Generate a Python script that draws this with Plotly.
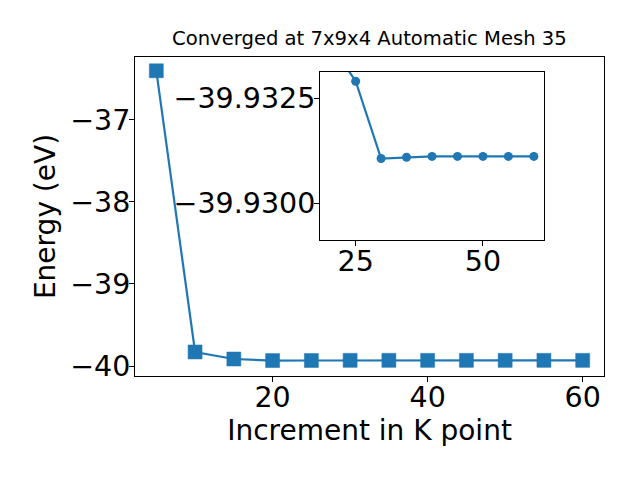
import plotly.graph_objects as go

kpoints = [5, 10, 15, 20, 25, 30, 35, 40, 45, 50, 55, 60]
energy = [-36.40, -39.829, -39.915, -39.9338, -39.9329, -39.93106, -39.93109,
          -39.93111, -39.93111, -39.93111, -39.93111, -39.93111]
inset_x = kpoints[3:]
inset_y = energy[3:]

main_yticks = [-37, -38, -39, -40]
main_xticks = [20, 40, 60]
inset_yticks = [-39.9325, -39.9300]
inset_yticktext = ["\u221239.9325", "\u221239.9300"]
inset_xticks = [25, 50]

C = "#1f77b4"
FONT = "DejaVu Sans"

fig = go.Figure()
fig.add_trace(go.Scatter(
    x=kpoints, y=energy, mode="lines+markers",
    line=dict(color=C, width=2.2),
    marker=dict(symbol="square", size=14, color=C, line=dict(color="rgba(31,119,180,0.5)", width=1)),
    xaxis="x", yaxis="y", showlegend=False, cliponaxis=False))
fig.add_trace(go.Scatter(
    x=inset_x, y=inset_y, mode="lines+markers",
    line=dict(color=C, width=2.2),
    marker=dict(symbol="circle", size=9, color=C),
    xaxis="x2", yaxis="y2", showlegend=False))

axbase = dict(showline=True, linecolor="black", linewidth=1, mirror=True,
              ticks="outside", ticklen=5, tickcolor="black", showgrid=False,
              zeroline=False, automargin=False,
              tickfont=dict(family=FONT, size=28.5, color="black"))
xax = dict(axbase, ticklabelstandoff=-9)
yax = dict(axbase, ticklabelstandoff=-7)

fig.update_layout(
    width=640, height=480,
    margin=dict(l=127, r=44, t=49, b=112),
    paper_bgcolor="white", plot_bgcolor="white",
    font=dict(family=FONT, color="black"),
    xaxis=dict(domain=[0, 1], range=[2.25, 62.75], tickvals=main_xticks,
               title=dict(text="Increment in K point", font=dict(size=28, family=FONT), standoff=4),
               **xax),
    yaxis=dict(domain=[0, 1], range=[-40.122, -36.232], tickvals=main_yticks,
               title=dict(text="Energy (eV)", font=dict(size=28, family=FONT), standoff=6),
               **yax),
    xaxis2=dict(domain=[0.3945, 0.8721], range=[18, 62], tickvals=inset_xticks,
                anchor="y2", **xax),
    yaxis2=dict(domain=[0.4263, 0.953], range=[-39.92912, -39.93312], tickvals=inset_yticks,
                ticktext=inset_yticktext, anchor="x2", **yax),
    annotations=[dict(text="Converged at 7x9x4 Automatic Mesh 35", xref="paper", yref="paper",
                      x=0.5, y=1.0, yshift=5, xanchor="center", yanchor="bottom", showarrow=False,
                      font=dict(family=FONT, size=19.6, color="black"))],
)

fig.write_html("out.html")
